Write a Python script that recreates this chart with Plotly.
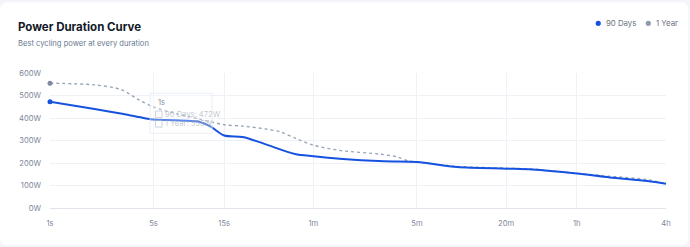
import plotly.graph_objects as go
import math

# ---- data ----
durations_90 = [1, 2, 3, 4, 5, 7, 10, 12, 15, 20, 28, 45, 60, 90, 180, 300, 560, 1200, 1800, 3600, 6000, 10800, 14400]
power_90 = [472, 440, 420, 404, 393, 390, 384, 364, 322, 316, 285, 240, 230, 219, 208, 205, 182, 175, 171, 153, 136, 120, 108]

durations_1y = [1, 2, 3, 4, 5, 7, 10, 15, 20, 28, 36, 46, 60, 90, 170, 221, 263, 300, 560, 1200, 1800, 3600, 6000, 10800, 14400]
power_1y = [555, 547, 527, 480, 449, 420, 397, 370, 364, 352, 338, 308, 279, 256, 239, 227, 209, 205, 185, 177, 173, 154, 141, 126, 108]

tick_vals = [1, 5, 15, 60, 300, 1200, 3600, 14400]
tick_text = ["1s", "5s", "15s", "1m", "5m", "20m", "1h", "4h"]
y_ticks = [0, 100, 200, 300, 400, 500, 600]
y_text = [f"{v}W" for v in y_ticks]

series_names = ["90 Days", "1 Year"]
series_colors = ["#1652e0", "#8f9ab0"]

W, H = 690, 247
ML, MR, MT, MB = 50, 24.3, 72.7, 39.3
PW, PH = W - ML - MR, H - MT - MB
FONT = "Inter"

def px2x(px):
    return (px - ML) / PW

def px2y(py):
    return (H - MB - py) / PH

fig = go.Figure()

fig.add_trace(go.Scatter(
    x=durations_1y, y=power_1y, mode="lines", name=series_names[1],
    line=dict(color="#9aa5b8", width=1.4, dash="3px,3px", shape="spline", smoothing=0.8),
    showlegend=False, hoverinfo="skip"))
fig.add_trace(go.Scatter(
    x=durations_90, y=power_90, mode="lines", name=series_names[0],
    line=dict(color=series_colors[0], width=2, shape="spline", smoothing=0.8),
    showlegend=False, hoverinfo="skip"))
# hovered points
fig.add_trace(go.Scatter(x=[durations_1y[0]], y=[power_1y[0]], mode="markers",
                         marker=dict(color="#7f8aa0", size=5), showlegend=False, cliponaxis=False))
fig.add_trace(go.Scatter(x=[durations_90[0]], y=[power_90[0]], mode="markers",
                         marker=dict(color=series_colors[0], size=5), showlegend=False, cliponaxis=False))

# card background
r = 8
x0, x1 = 0, 688
y0, y1 = 2, 245
def P(px, py):
    return f"{px2x(px):.5f},{px2y(py):.5f}"
path = (f"M {P(x0 + r, y0)} L {P(x1 - r, y0)} Q {P(x1, y0)} {P(x1, y0 + r)} "
        f"L {P(x1, y1 - r)} Q {P(x1, y1)} {P(x1 - r, y1)} L {P(x0 + r, y1)} "
        f"Q {P(x0, y1)} {P(x0, y1 - r)} L {P(x0, y0 + r)} Q {P(x0, y0)} {P(x0 + r, y0)} Z")
shapes = [dict(type="path", xref="paper", yref="paper", path=path, fillcolor="white",
               line=dict(width=0), layer="below")]

annotations = [
    dict(text="<b>Power Duration Curve</b>", xref="paper", yref="paper", x=px2x(16), y=px2y(27),
         xanchor="left", yanchor="middle", showarrow=False, font=dict(family=FONT, size=11.5, color="#111827")),
    dict(text="Best cycling power at every duration", xref="paper", yref="paper", x=px2x(16.5), y=px2y(43.5),
         xanchor="left", yanchor="middle", showarrow=False, font=dict(family=FONT, size=7.6, color="#6b7a90")),
]

# legend (dots + labels)
legend_x = [598, 648]
for name, col, lx in zip(series_names, series_colors, legend_x):
    shapes.append(dict(type="circle", xref="paper", yref="paper",
                       x0=px2x(lx - 2.6), x1=px2x(lx + 2.6), y0=px2y(23 + 2.6), y1=px2y(23 - 2.6),
                       fillcolor=col, line=dict(width=0)))
    annotations.append(dict(text=name, xref="paper", yref="paper", x=px2x(lx + 5.5), y=px2y(23),
                            xanchor="left", yanchor="middle", showarrow=False,
                            font=dict(family=FONT, size=7.8, color="#6b7280")))

# faded tooltip
shapes.append(dict(type="rect", xref="paper", yref="paper",
                   x0=px2x(150), x1=px2x(212), y0=px2y(133), y1=px2y(93),
                   fillcolor="rgba(255,255,255,0.3)", line=dict(color="rgba(228,232,240,0.7)", width=1), layer="above"))
for yy in (114, 123.5):
    shapes.append(dict(type="rect", xref="paper", yref="paper",
                       x0=px2x(155.5), x1=px2x(162), y0=px2y(yy + 3.3), y1=px2y(yy - 3.3),
                       fillcolor="rgba(255,255,255,0)", line=dict(color="rgba(170,182,200,0.6)", width=1), layer="above"))
annotations += [
    dict(text="1s", xref="paper", yref="paper", x=px2x(155.5), y=px2y(101.7),
         xanchor="left", yanchor="middle", showarrow=False, font=dict(family=FONT, size=7.6, color="rgba(100,110,125,0.8)")),
    dict(text=f"{series_names[0]}: {power_90[0]}W", xref="paper", yref="paper", x=px2x(162.5), y=px2y(114),
         xanchor="left", yanchor="middle", showarrow=False, font=dict(family=FONT, size=7.6, color="rgba(150,160,175,0.6)")),
    dict(text=f"{series_names[1]}: {power_1y[0]}W", xref="paper", yref="paper", x=px2x(162.5), y=px2y(123.5),
         xanchor="left", yanchor="middle", showarrow=False, font=dict(family=FONT, size=7.6, color="rgba(150,160,175,0.6)")),
]

fig.update_layout(
    width=W, height=H,
    margin=dict(l=ML, r=MR, t=MT, b=MB),
    paper_bgcolor="#f3f5f8", plot_bgcolor="rgba(0,0,0,0)",
    font=dict(family=FONT, size=7.6, color="#7d879a"),
    shapes=shapes, annotations=annotations, showlegend=False,
    xaxis=dict(type="log", range=[0, math.log10(14400)], tickvals=tick_vals, ticktext=tick_text,
               showgrid=True, gridcolor="#eef2f7", gridwidth=1, zeroline=False,
               showline=True, linecolor="#dfe4eb", linewidth=1, ticks="", ticklabelstandoff=8,
               tickfont=dict(family=FONT, size=7.6, color="#7d879a")),
    yaxis=dict(range=[0, 600], tickvals=y_ticks, ticktext=y_text, showgrid=True, gridcolor="#eef2f7",
               zeroline=False, showline=False, ticks="", ticklabelstandoff=8,
               tickfont=dict(family=FONT, size=7.6, color="#7d879a")),
    hovermode=False,
)

fig.write_html("out.html")
